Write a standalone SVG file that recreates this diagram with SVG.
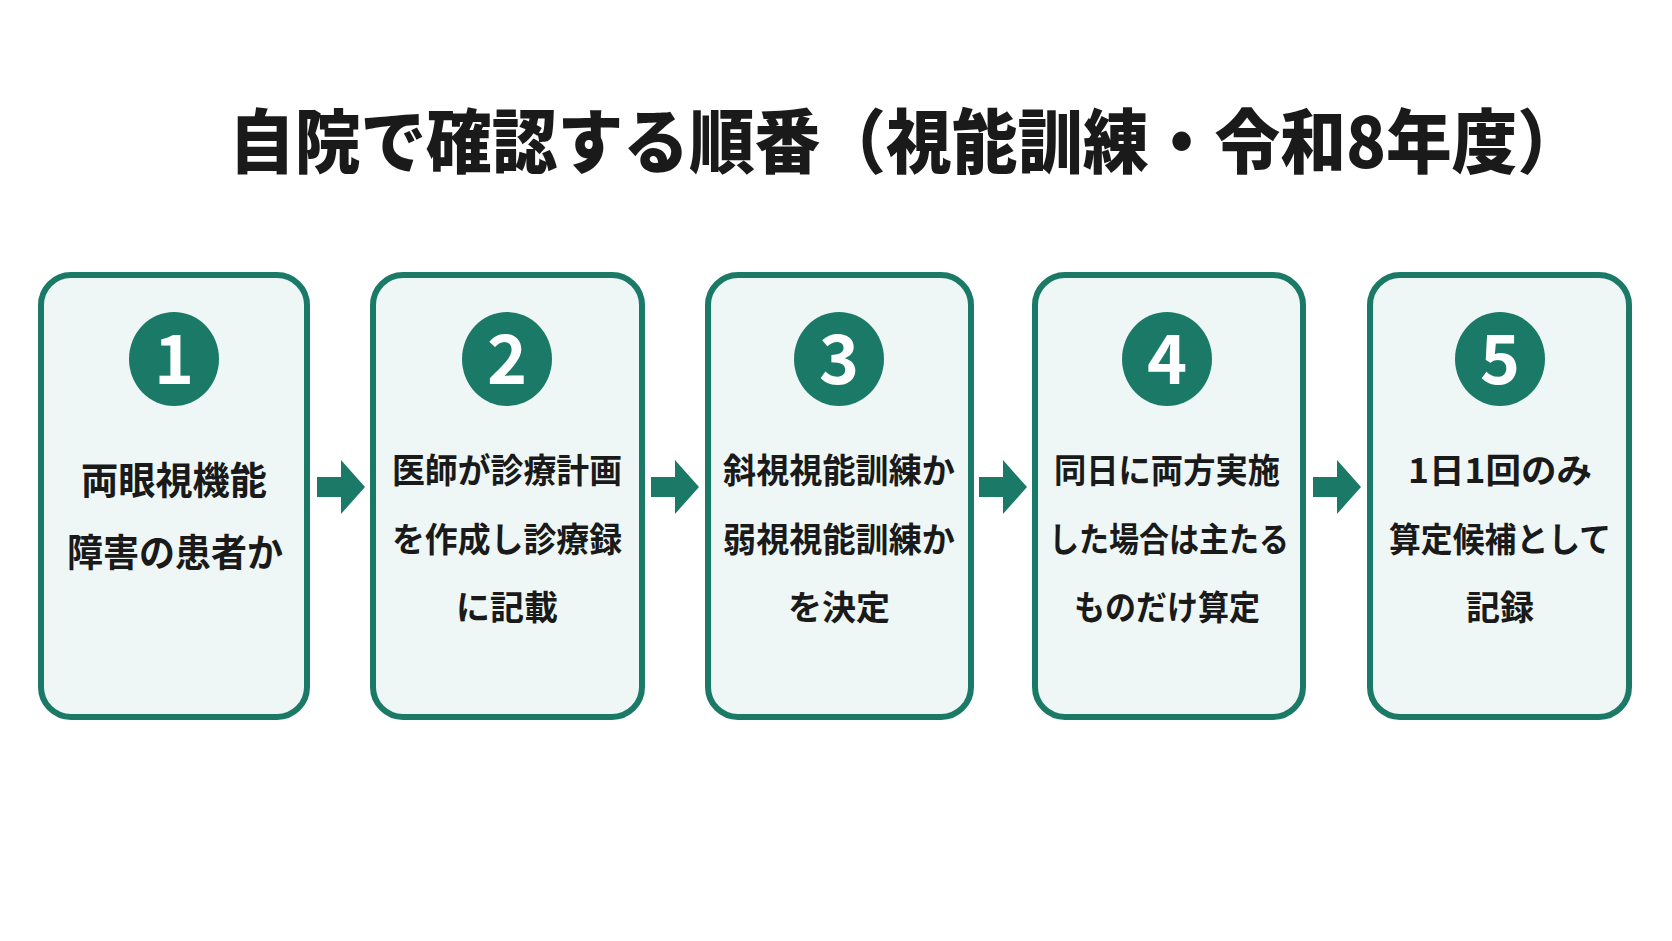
<svg xmlns="http://www.w3.org/2000/svg" width="1672" height="941" viewBox="0 0 1672 941">
<style>
.box{fill:#eef7f5;stroke:#1b7a67;stroke-width:6}
.num-bg{fill:#1b7a67}
.num{fill:#ffffff;font-family:"Noto Sans CJK JP","Noto Sans",sans-serif;font-weight:700;font-size:68px;text-anchor:middle}
.lbl{fill:#1a1a1a;font-family:"Noto Sans CJK JP",sans-serif;font-weight:700;font-size:34px;text-anchor:middle}
.lbl1{font-size:38px}
.title{fill:#1a1a1a;font-family:"Noto Sans CJK JP",sans-serif;font-weight:900;font-size:70px}
.arrow{fill:#1b7a67}
</style>
<rect width="1672" height="941" fill="#ffffff"/>
<text class="title" x="229" y="168" textLength="1354" lengthAdjust="spacingAndGlyphs">自院で確認する順番（視能訓練・令和8年度）</text>

<g id="step1">
<rect class="box" x="41" y="275" width="266" height="442" rx="30"/>
<ellipse class="num-bg" cx="174" cy="359" rx="45" ry="47"/>
<text class="num" x="174" y="384">1</text>
<text class="lbl lbl1" x="174" y="494" textLength="186" lengthAdjust="spacingAndGlyphs">両眼視機能</text>
<text class="lbl lbl1" x="175" y="566" textLength="216" lengthAdjust="spacingAndGlyphs">障害の患者か</text>
</g>

<g id="step2">
<rect class="box" x="373" y="275" width="269" height="442" rx="30"/>
<ellipse class="num-bg" cx="507" cy="359" rx="45" ry="47"/>
<text class="num" x="507" y="384">2</text>
<text class="lbl" x="507" y="483" textLength="230" lengthAdjust="spacingAndGlyphs">医師が診療計画</text>
<text class="lbl" x="507" y="552" textLength="230" lengthAdjust="spacingAndGlyphs">を作成し診療録</text>
<text class="lbl" x="507" y="620">に記載</text>
</g>

<g id="step3">
<rect class="box" x="708" y="275" width="263" height="442" rx="30"/>
<ellipse class="num-bg" cx="839" cy="359" rx="45" ry="47"/>
<text class="num" x="839" y="384">3</text>
<text class="lbl" x="839" y="483" textLength="232" lengthAdjust="spacingAndGlyphs">斜視視能訓練か</text>
<text class="lbl" x="839" y="552" textLength="232" lengthAdjust="spacingAndGlyphs">弱視視能訓練か</text>
<text class="lbl" x="839" y="620">を決定</text>
</g>

<g id="step4">
<rect class="box" x="1035" y="275" width="268" height="442" rx="30"/>
<ellipse class="num-bg" cx="1167" cy="359" rx="45" ry="47"/>
<text class="num" x="1167" y="384">4</text>
<text class="lbl" x="1167" y="483" textLength="226" lengthAdjust="spacingAndGlyphs">同日に両方実施</text>
<text class="lbl" x="1169" y="552" textLength="240" lengthAdjust="spacingAndGlyphs">した場合は主たる</text>
<text class="lbl" x="1167" y="620" textLength="186" lengthAdjust="spacingAndGlyphs">ものだけ算定</text>
</g>

<g id="step5">
<rect class="box" x="1370" y="275" width="259" height="442" rx="30"/>
<ellipse class="num-bg" cx="1500" cy="359" rx="45" ry="47"/>
<text class="num" x="1500" y="384">5</text>
<text class="lbl" x="1500" y="483" textLength="184" lengthAdjust="spacingAndGlyphs">1日1回のみ</text>
<text class="lbl" x="1500" y="552" textLength="222" lengthAdjust="spacingAndGlyphs">算定候補として</text>
<text class="lbl" x="1500" y="620">記録</text>
</g>

<g id="connectors">
<path class="arrow" d="M317 477 H341 V460 L365 487 L341 514 V497 H317 Z"/>
<path class="arrow" d="M651 477 H675 V460 L699 487 L675 514 V497 H651 Z"/>
<path class="arrow" d="M979 477 H1003 V460 L1027 487 L1003 514 V497 H979 Z"/>
<path class="arrow" d="M1313 477 H1337 V460 L1361 487 L1337 514 V497 H1313 Z"/>
</g>
</svg>
